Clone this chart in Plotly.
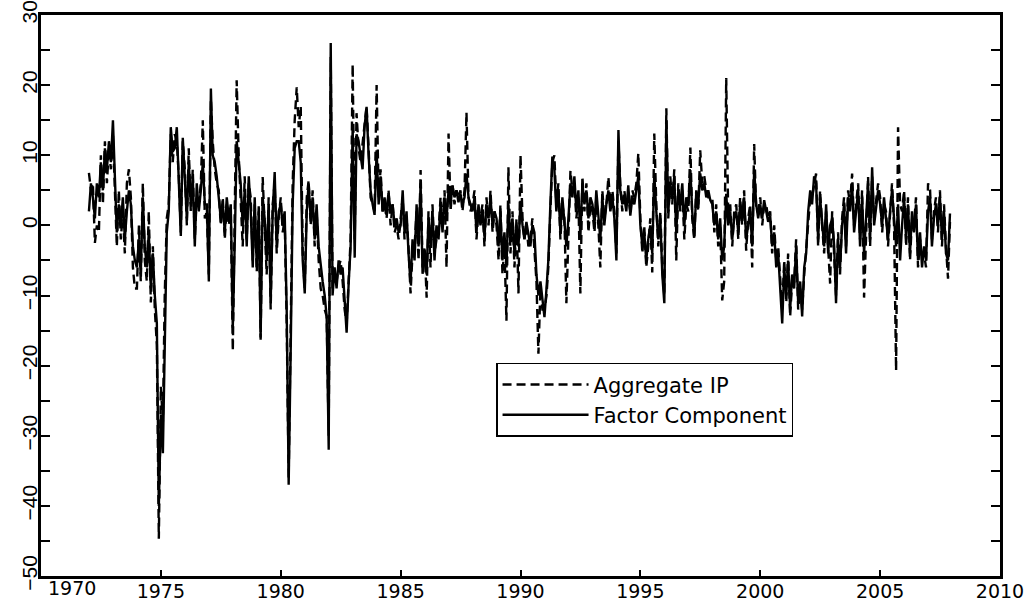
import pandas as pd
import plotly.graph_objects as go

# Monthly values, Jan 1972 - Dec 2007 (one row per year)
factor_component = [
    2, 6, 4, 1, 6, 4, 9, 5, 11, 8, 12, 9,                 # 1972
    15, 5, -1, 3, 0, 4, -2, 2, 5, 3, -3, -5,              # 1973
    -6, -2, -7, 4, -3, -6, -1, -9, -4, -10, -14, -40,     # 1974
    -27, -32.5, -15, -1, 2, 14, 10.5, 11, 14, 5.5, -1.5, 12.5,  # 1975
    7, 1, 9, 3, 7, -3, 6, 2, 5, 9, 3, 3,                  # 1976
    -8, 19.5, 10, 9, 7, 4, 1, 3, -1, 4, 1, 3,             # 1977
    -14.6, -2, 12, 9, 6, 0, 5, -3, 7, 2, -6, 4,           # 1978
    -6, 2, -16, 4, 1, -5, 3, -11, 2, 7.6, -3, 2,          # 1979
    3, 0, 2, -12, -37, -18, 3, 11, 12, 12, 9, -5,         # 1980
    -9.7, 2, 6, 1, 4, -2, 3, -3, -6, -8, -10, -13,        # 1981
    -32, 26, -10, -6, -9, -5, -7, -6, -10.7, -15.3, -8.3, -3,  # 1982
    14, -4.6, 13, 12, 10, 8, 14, 16.9, 10, 5, 3, 1.5,     # 1983
    10.7, 3, 7, 2, 4, 1.5, 4.6, 2, 3, 0, 1, -1,           # 1984
    0, 5, -1, 2, -4, -8.3, -2, -5, 3, -3, 6, -6.9,        # 1985
    -4, -7, 1, -3, 2, -5, 0, -2, 3, -1, 4, 1,             # 1986
    5, 3, 5.7, 4, 5, 3.3, 4.5, 3, 4, 7.4, 4, 3,           # 1987
    2, 4, -1, 3, 0, 2, -1.6, 3, 1, 4, 0, 2,               # 1988
    1, -3, 2, -5, -1, -6, 3, -2, 1, -4, 0, -3,            # 1989
    3.5, 0, -2, 0.5, -1, -3, 0, -1, -7, -10, -8, -11,     # 1990
    -13.1, -9, -5, 3, 9.8, 8, 2, 5, -1, 4, 0, -3,         # 1991
    1, 6, 4, 7, 2, 5, -1.7, 6, 3, 5, 1, 4,                # 1992
    3, 0, 5, 1, -2, 4, 0, 3, 5, 2, 4, 1,                  # 1993
    -5, 13.6, 5, 3, 4, 2, 5.7, 1.4, 4, 3, 5, 7,           # 1994
    0, -3, -1, -5, -2, 0, -4, 7.4, 2, -2, 1, -7,          # 1995
    -11.1, 15, 2, 6, 4, 7, -1, 5, 3, 6, 0, 4,             # 1996
    3, 7.9, 2, -1.7, 4.6, 3, 7.4, 5, 6, 4, 5, 3.6,        # 1997
    3, 0, 2, -2, 1, -5, -3, 4.5, 0, 2, -2, 1,             # 1998
    2, -1, 3, 1, 4, -2, 0, 2, -3, 8, 3, 1,                # 1999
    3, 1, 3.6, 2, 0.5, 1.4, -3, -1, -6, -4, -9.3, -14,    # 2000
    -6, -10, -5, -12, -7, -9, -3, -11, -8, -13, -6, -4,   # 2001
    2, 5, 3, 7, 6, -2, 4, 1, -3, 3, -4, 0,                # 2002
    1, -3, -11.1, -2, -6, 0, 3, -4, 4, 2, 6, -1,          # 2003
    2, 5, -3, 4, -4, 1, 6, -2, 8.3, 0, 3, 5,              # 2004
    3, 0, 4, 1, -2, 2, 5, 1, -3, 3, -5, 0,                # 2005
    4, -2, 3, -4, 2, -1, 3, -5, -1, -6, -3, -5,           # 2006
    2, 4, -3, 1, 3, 0, 4, -2, 2, -4, -5, 1.7,             # 2007
]

aggregate_ip = [
    7.5, 5, 6, -2.5, 0, -1, 10, 3, 12, 6, 11, 8,          # 1972
    13, 3, -3, 5, -2, 2, -4, 6, 8, 4, -6, -9,             # 1973
    -9, 0, -8, 6, -5, -8, 2, -11, -3, -12, -17, -44.7,    # 1974
    -23, -28, -10, 1, 3, 13, 9, 13, 12, 7, -1, 12,        # 1975
    8, 0, 11, 2, 8, -2, 4, 3, 6, 15, 1, 2,                # 1976
    -7, 18, 12, 8, 6, 5, 0, 4, -2, 3, 0, 2,               # 1977
    -17.9, 3, 20.7, 10, 3, -3, 7, -2, 6, 4, -5, 3,        # 1978
    -6.6, 3, -16.3, 6.9, 0, -7, 4, -12, 3, 6, -4, 1,      # 1979
    4, -1, 1, -14, -36, -16, 6, 15, 19.7, 14, 17, -4,     # 1980
    -9, 4, 6.4, 0, 5, -3, 2, -5, -9, -10, -12, -13,       # 1981
    -30, 24, -9, -7, -8, -6, -5, -8, -12, -14, -7, -2,    # 1982
    23, -2, 16, 11, 9, 12, 15, 17, 11, 4, 3, 2,           # 1983
    20, 4, 8, 2, 3, 1, 5, 0, 3, -1, 0, -2,                # 1984
    1, 4, -2, 1, -3, -9.7, -4, -3, 2, -5, 7.9, -6,        # 1985
    -3, -10.3, 2, -6, 3, -4, -2, -1, 4, 0, 5, -6,         # 1986
    13.1, 2, 6, 3, 5, 4, 5, 2, 5, 16.1, 4, 2,             # 1987
    3, 5, -2, 2, 1, 3, -3, 4, 0, 5, -1, 2,                # 1988
    0, -5, 3, -7, -3, -13.6, 8.3, -4, 2, -6, 1, -9.7,     # 1989
    10, 1, -2, 0, -3, -2, 1, -3, -8, -18.3, -9, -12,      # 1990
    -12, -10, -6, 2, 9, 10, 3, 6, -2, 3, 1, -11.1,        # 1991
    0, 7.8, 5, 6, 1, 4, -9.7, 7, 2, 6, -1, 3,             # 1992
    2, -1, 4, 0, -6, 5, 1, 3, 6.9, 3, 5, 2,               # 1993
    -4, 12, 6, 2, 5, 3, 4, 2, 5, 4, 6, 10.3,              # 1994
    1, -4, 0, -6, -3, 1, -6.7, 13.1, 3, -3, 2, -6,        # 1995
    -10, 16.7, 1, 7, 3, 8, -5, 6, 2, 5, -2, 3,            # 1996
    2, 11.1, 1, -2, 5, 2, 10.7, 6, 7, 5, 4, 4,            # 1997
    4, -1, 3, -3, 0, -10.7, -8, 21, 1, 3, -3, 2,          # 1998
    3, -2, 4, 0, 5, -3.6, 1, 3, -6, 11.6, 2, 2,           # 1999
    4, 0, 3, 3, 1, 2, -4, 0, -5, -3, -8, -12,             # 2000
    -5, -11, -4, -13, -8, -8, -2, -12, -9, -12, -7, -3,   # 2001
    1, 4, 4, 6, 7.4, -3, 5, 0, -4, 2, -4, -8.3,           # 2002
    2, -4, -10, -1, -7, 1, 4, -3, 5, 3, 7.4, 0,           # 2003
    3, 6, -2, 5, -10.3, 0, 7, -3, 7, 1, 4, 6,             # 2004
    4, -1, 3, 2, -3, 1, 6, 0, -20.7, 14, 3, 2,            # 2005
    5, -3, 4, -5, 1, 0, 4, -6, -2, -5, -4, -6,            # 2006
    6, 5, -2, 2, 4, -1, 5, -3, 3, -3, -7.6, 0.5,          # 2007
]

x_tick_years = [1970, 1975, 1980, 1985, 1990, 1995, 2000, 2005, 2010]
y_tick_values = [-50, -40, -30, -20, -10, 0, 10, 20, 30]
y_minor_values = [-45, -35, -25, -15, -5, 5, 15, 25]

months = pd.date_range("1972-01-01", periods=len(factor_component), freq="MS")

fig = go.Figure()
fig.add_trace(go.Scatter(
    x=months, y=aggregate_ip, mode="lines", name="Aggregate IP",
    line=dict(color="black", width=2.4, dash="9px,5px"),
))
fig.add_trace(go.Scatter(
    x=months, y=factor_component, mode="lines", name="Factor Component",
    line=dict(color="black", width=2.4),
))

tick_font = dict(family="DejaVu Sans", size=19, color="black")

fig.update_layout(
    width=1034, height=609,
    margin=dict(l=41, r=34, t=15, b=33, autoexpand=False),
    paper_bgcolor="white", plot_bgcolor="white",
    font=dict(family="DejaVu Sans", color="black"),
    showlegend=True,
    legend=dict(
        x=0.4745, y=0.38, xanchor="left", yanchor="top",
        bgcolor="white", bordercolor="black", borderwidth=1.5,
        font=dict(family="DejaVu Sans", size=21, color="black"),
        itemwidth=86, tracegroupgap=0,
    ),
    xaxis=dict(
        type="date",
        range=["1970-01-01", "2010-01-01"],
        tickvals=[f"{y}-01-01" for y in x_tick_years],
        ticktext=["" if y == 1970 else str(y) for y in x_tick_years],
        ticks="inside", ticklen=6, tickwidth=1.5, tickcolor="black",
        showline=True, linewidth=3, linecolor="black", mirror=True,
        showgrid=False, zeroline=False, automargin=False,
        tickfont=tick_font, ticklabeloverflow="allow",
        ticklabelstandoff=-4,
    ),
    yaxis=dict(
        range=[-50, 30],
        tickvals=y_tick_values,
        ticks="inside", ticklen=9, tickwidth=1.5, tickcolor="black",
        minor=dict(tickvals=y_minor_values, ticks="inside", ticklen=9,
                   tickwidth=1.5, tickcolor="black"),
        tickangle=-90,
        showline=True, linewidth=3, linecolor="black", mirror="allticks",
        showgrid=False, zeroline=False, automargin=False,
        tickfont=dict(family="Liberation Sans Narrow, Liberation Sans", size=21, color="black"),
        ticklabelstandoff=-7, ticklabeloverflow="allow",
    ),
    annotations=[dict(
        x="1970-01-01", y=0, xref="x", yref="paper",
        text="1970", showarrow=False, xanchor="center", yanchor="top",
        xshift=31, yshift=1, font=tick_font,
    )],
)

# remove the page's default body margin so the 1034x609 figure fills the window
fig.write_html(
    "out.html",
    config={"displayModeBar": False},
    post_script="document.body.style.margin='0px';",
)
